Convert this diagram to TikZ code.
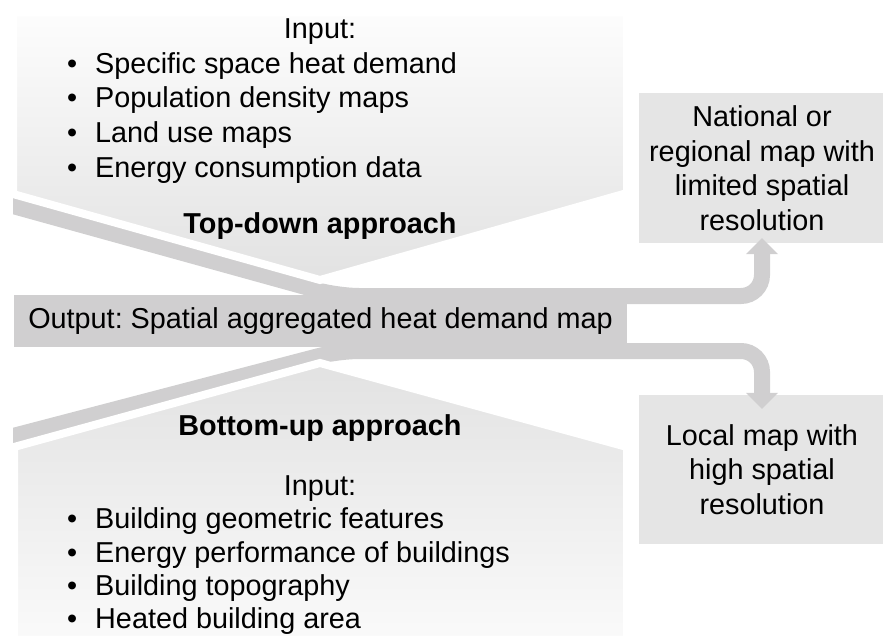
\documentclass[tikz,border=0pt]{standalone}
\usepackage{fontspec}
\setmainfont{Liberation Sans}
\usetikzlibrary{arrows.meta}
\definecolor{bandgray}{RGB}{208,207,208}
\definecolor{boxgray}{RGB}{229,229,229}
\definecolor{padlight}{RGB}{253,253,253}
\definecolor{paddark}{RGB}{226,226,226}
\definecolor{padlow}{RGB}{250,250,250}
\frenchspacing
\begin{document}
\begin{tikzpicture}[x=1pt,y=-1pt,
  txt/.style={inner sep=0pt, font=\fontsize{28.8}{34.5}\selectfont},
  item/.style={txt, anchor=base west},
  head/.style={txt, anchor=base},
  band/.style={draw=bandgray, line width=16pt, rounded corners=21pt,
    -{Triangle[width=32pt,length=16pt,line width=0pt]}},
  outbox/.style={txt, fill=bandgray, minimum width=613pt, minimum height=52pt},
  mapbox/.style={txt, fill=boxgray, align=center, minimum width=246pt, minimum height=150pt},
  pad/.style={draw=white, line width=8pt, line join=miter}
]
\useasboundingbox (0,0) rectangle (883,635);

% result boxes
\node[mapbox] (nat) at (762,168) {National or\\regional map with\\limited spatial\\resolution};
\node[mapbox, minimum height=149pt] (loc) at (762,469.5) {Local map with\\high spatial\\resolution};

% connector bands
\coordinate (topstart) at (0,202.4);
\coordinate (topbend) at (338,296);
\coordinate (botstart) at (0,439.4);
\coordinate (botbend) at (338,351);
\begin{scope}
\clip (13,0) rectangle (900,640);
\draw[band] (topstart) -- (topbend) -- (topbend -| nat.south) -- ([yshift=5pt]nat.south);
\draw[band] (botstart) -- (botbend) -- (botbend -| loc.north) -- ([yshift=-14pt]loc.north);
\end{scope}

% output box
\node[outbox] (out) at (320.5,321) {Output: Spatial aggregated heat demand map};

% approach chevrons
\path[pad, top color=padlight, bottom color=paddark]
  (13,12) -- (627,12) -- (627,193) -- (320,280) -- (13,194) -- cycle;
\path[pad, top color=paddark, bottom color=padlow]
  (320,363) -- (627,447) -- (627,640) -- (14,640) -- (14,447) -- cycle;

% top-down texts
\node[head] (tin) at (320,38.5) {Input:};
\node[item] (t1) at (67,73.3) {\makebox[28pt][l]{•}Specific space heat demand};
\node[item] (t2) at (67,107.9) {\makebox[28pt][l]{•}Population density maps};
\node[item] (t3) at (67,142.5) {\makebox[28pt][l]{•}Land use maps};
\node[item] (t4) at (67,177.1) {\makebox[28pt][l]{•}Energy consumption data};
\node[head, font=\fontsize{28.8}{34.5}\selectfont\bfseries] (td) at (320,233) {Top-down approach};

% bottom-up texts
\node[head, font=\fontsize{28.8}{34.5}\selectfont\bfseries] (bu) at (320,435.5) {Bottom-up approach};
\node[head] (bin) at (320,495) {Input:};
\node[item] (b1) at (67,528.8) {\makebox[28pt][l]{•}Building geometric features};
\node[item] (b2) at (67,562.2) {\makebox[28pt][l]{•}Energy performance of buildings};
\node[item] (b3) at (67,595.6) {\makebox[28pt][l]{•}Building topography};
\node[item] (b4) at (67,628.8) {\makebox[28pt][l]{•}Heated building area};
\end{tikzpicture}
\end{document}
